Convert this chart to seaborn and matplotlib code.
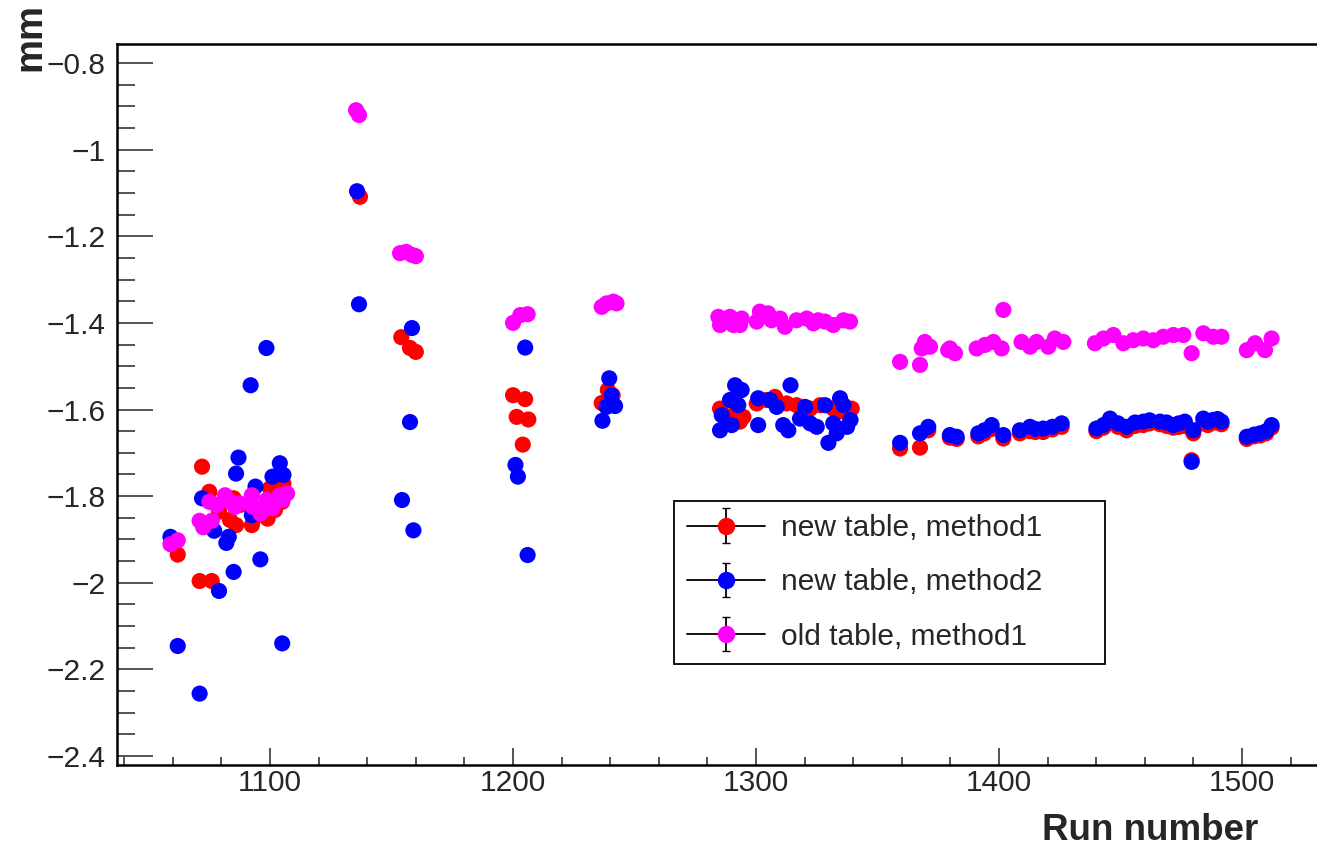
import numpy as np
import pandas as pd
import matplotlib
matplotlib.use("Agg")
import matplotlib.pyplot as plt
import seaborn as sns
from matplotlib.lines import Line2D
from matplotlib.collections import LineCollection
from matplotlib.container import ErrorbarContainer
from matplotlib.legend_handler import HandlerErrorbar
from matplotlib.ticker import MultipleLocator, FixedLocator, FixedFormatter

# ---------------- data ----------------
series_names = ["new table, method1", "new table, method2", "old table, method1"]
series_colors = ["#ff0000", "#0000ff", "#ff00ff"]

red_runs = [1062, 1071, 1076, 1072, 1075, 1078, 1079, 1083.5, 1085, 1086, 1088, 1092.5, 1095,
            1099, 1100, 1102, 1105, 1105.5,
            1137, 1154, 1157.6, 1160,
            1200, 1205, 1201.5, 1206.3, 1204,
            1239, 1241, 1236.5,
            1285.2, 1287.9, 1292, 1293.4, 1294.8, 1300.3, 1304.4, 1307.8, 1312.6, 1316.7,
            1322.3, 1326.4, 1331.8, 1336, 1339.4,
            1359.3, 1367.5, 1370.9, 1379.8, 1382.6, 1391.5, 1394, 1397, 1401.8, 1408.6, 1412.8,
            1415, 1418.2, 1422, 1425.8, 1440.1, 1443, 1445.7, 1449, 1452.5, 1456, 1459.4, 1462,
            1466.3, 1469, 1471.7, 1474, 1476.5, 1479.3, 1480, 1484.1, 1486, 1488.2, 1490, 1491.6,
            1502, 1505, 1507.5, 1510, 1512.2]
red_vals = [-1.935, -1.996, -1.996, -1.732, -1.790, -1.820, -1.836, -1.855, -1.805, -1.867, -1.820, -1.867, -1.845,
            -1.852, -1.782, -1.832, -1.813, -1.771,
            -1.109, -1.433, -1.458, -1.467,
            -1.567, -1.576, -1.617, -1.623, -1.681,
            -1.555, -1.567, -1.585,
            -1.598, -1.617, -1.598, -1.628, -1.617, -1.586, -1.578, -1.571, -1.586, -1.590,
            -1.598, -1.590, -1.598, -1.605, -1.598,
            -1.690, -1.688, -1.648, -1.665, -1.668, -1.662, -1.655, -1.645, -1.667, -1.655, -1.650,
            -1.652, -1.652, -1.646, -1.640, -1.650, -1.642, -1.630, -1.640, -1.648, -1.638, -1.636, -1.632,
            -1.634, -1.638, -1.642, -1.640, -1.638, -1.717, -1.655, -1.632, -1.636, -1.630, -1.630, -1.634,
            -1.668, -1.662, -1.660, -1.655, -1.642]

blue_runs = [1059, 1062, 1071, 1072, 1077, 1079, 1082, 1083, 1085, 1086, 1087, 1092, 1092.5, 1094,
             1096, 1098.5, 1101, 1104, 1105, 1105.5,
             1135.8, 1136.6, 1154.3, 1157.6, 1158.4, 1159,
             1201, 1202, 1205, 1206,
             1239.6, 1240.5, 1242, 1238.5, 1236.8,
             1291.4, 1294.1, 1314.2, 1289.3, 1292.7, 1300.9, 1305.8, 1308.5, 1285.9, 1290, 1285.2,
             1300.9, 1311.2, 1313.3, 1318.1, 1320.2, 1322.3, 1325, 1328.4, 1329.8, 1334.6, 1336,
             1338.9, 1337.5, 1333.2, 1331.8,
             1359.3, 1367.5, 1370.9, 1379.8, 1382.6, 1391.5, 1394, 1397, 1401.8, 1408.6, 1412.8,
             1415, 1418.2, 1422, 1425.8, 1440.1, 1443, 1445.7, 1449, 1452.5, 1456, 1459.4, 1462,
             1466.3, 1469, 1471.7, 1474, 1476.5, 1479.3, 1480, 1484.1, 1486, 1488.2, 1490, 1491.6,
             1502, 1505, 1507.5, 1510, 1512.2]
blue_vals = [-1.894, -2.146, -2.256, -1.805, -1.880, -2.019, -1.908, -1.894, -1.975, -1.748, -1.711, -1.544, -1.844, -1.778,
             -1.946, -1.458, -1.755, -1.724, -2.140, -1.751,
             -1.096, -1.357, -1.809, -1.629, -1.412, -1.879,
             -1.728, -1.755, -1.457, -1.936,
             -1.528, -1.567, -1.592, -1.594, -1.626,
             -1.544, -1.555, -1.544, -1.578, -1.590, -1.574, -1.578, -1.594, -1.613, -1.636, -1.648,
             -1.636, -1.636, -1.648, -1.621, -1.594, -1.632, -1.640, -1.590, -1.677, -1.574, -1.590,
             -1.624, -1.640, -1.655, -1.632,
             -1.677, -1.655, -1.640, -1.659, -1.663, -1.655, -1.648, -1.636, -1.659, -1.648, -1.640,
             -1.645, -1.644, -1.640, -1.632, -1.644, -1.636, -1.621, -1.632, -1.640, -1.630, -1.628, -1.625,
             -1.628, -1.630, -1.636, -1.632, -1.628, -1.721, -1.648, -1.621, -1.628, -1.624, -1.622, -1.628,
             -1.663, -1.658, -1.655, -1.650, -1.636]

mag_runs = [1059, 1062, 1071, 1072.5, 1076, 1075, 1078, 1081.5, 1083.5, 1085.5, 1087.5, 1092.5, 1093,
            1096, 1098.5, 1101, 1104, 1105, 1107,
            1135.4, 1136.6, 1153.5, 1156, 1158.4, 1160,
            1200, 1203, 1206,
            1236.5, 1238.5, 1241.3, 1242.6,
            1284.5, 1285.2, 1289.3, 1290.7, 1294.1, 1293.4, 1300.3, 1301.6, 1305, 1306.4, 1309.9,
            1311.9, 1316.7, 1320.9, 1323.6, 1325.6, 1328.4, 1331.8, 1336, 1338.7,
            1359.3, 1367.5, 1369.5, 1371.6, 1368.2, 1379.1, 1381.9, 1379.8, 1390.8, 1394.2, 1397.7,
            1401.1, 1401.8, 1409.3, 1412.8, 1415.5, 1420.3, 1423, 1426.5, 1439.5, 1443, 1447.1,
            1451.2, 1455.3, 1459.4, 1463.5, 1467.6, 1471.8, 1475.9, 1479.3, 1484.1, 1488.2, 1491.6,
            1502, 1505.4, 1509.5, 1512.2]
mag_vals = [-1.911, -1.902, -1.857, -1.872, -1.857, -1.813, -1.821, -1.798, -1.813, -1.825, -1.817, -1.798, -1.825,
            -1.840, -1.809, -1.828, -1.798, -1.809, -1.794,
            -0.909, -0.920, -1.239, -1.236, -1.243, -1.246,
            -1.400, -1.382, -1.380,
            -1.363, -1.355, -1.351, -1.355,
            -1.386, -1.405, -1.386, -1.405, -1.390, -1.405, -1.397, -1.374, -1.378, -1.394, -1.390,
            -1.409, -1.394, -1.390, -1.401, -1.394, -1.397, -1.405, -1.394, -1.397,
            -1.490, -1.497, -1.444, -1.455, -1.459, -1.463, -1.470, -1.459, -1.459, -1.451, -1.444,
            -1.459, -1.370, -1.444, -1.455, -1.444, -1.455, -1.436, -1.444, -1.447, -1.436, -1.428,
            -1.447, -1.440, -1.436, -1.440, -1.432, -1.428, -1.428, -1.470, -1.424, -1.432, -1.432,
            -1.463, -1.447, -1.463, -1.436]

x_ticks = [1100, 1200, 1300, 1400, 1500]
x_tick_labels = ["1100", "1200", "1300", "1400", "1500"]
y_ticks = [-2.4, -2.2, -2.0, -1.8, -1.6, -1.4, -1.2, -1.0, -0.8]
y_tick_labels = ["\u22122.4", "\u22122.2", "\u22122", "\u22121.8", "\u22121.6", "\u22121.4",
                 "\u22121.2", "\u22121", "\u22120.8"]
x_label = "Run number"
y_label = "mm"

# ---------------- build frame ----------------
df = pd.concat([
    pd.DataFrame({"run": red_runs, "val": red_vals, "series": series_names[0]}),
    pd.DataFrame({"run": blue_runs, "val": blue_vals, "series": series_names[1]}),
    pd.DataFrame({"run": mag_runs, "val": mag_vals, "series": series_names[2]}),
], ignore_index=True)

sns.set_style("white")
plt.rcParams["font.family"] = ["Liberation Sans", "DejaVu Sans"]

W, H = 1317, 850
fig = plt.figure(figsize=(W / 100, H / 100), dpi=100)
ax = fig.add_axes([117 / W, 85 / H, 1200 / W, 721 / H])

sns.scatterplot(data=df, x="run", y="val", hue="series",
                palette=dict(zip(series_names, series_colors)),
                s=135, edgecolor="none", linewidth=0, legend=False, ax=ax, zorder=3)

ax.set_xlim(1037.0, 1530.9)
ax.set_ylim(-2.4208, -0.7561)

ax.xaxis.set_major_locator(FixedLocator(x_ticks))
ax.xaxis.set_major_formatter(FixedFormatter(x_tick_labels))
ax.xaxis.set_minor_locator(MultipleLocator(20))
ax.yaxis.set_major_locator(FixedLocator(y_ticks))
ax.yaxis.set_major_formatter(FixedFormatter(y_tick_labels))
ax.yaxis.set_minor_locator(MultipleLocator(0.05))

ax.tick_params(axis="x", which="major", direction="in", length=12.5, width=1.1,
               labelsize=21.5, pad=3, bottom=True, top=False)
ax.tick_params(axis="x", which="minor", direction="in", length=6, width=1.1,
               bottom=True, top=False)
ax.tick_params(axis="y", which="major", direction="in", length=26, width=1.1,
               labelsize=21.5, pad=8, left=True, right=False)
ax.tick_params(axis="y", which="minor", direction="in", length=13, width=1.1,
               left=True, right=False)

for side in ["left", "bottom", "top"]:
    ax.spines[side].set_visible(True)
    ax.spines[side].set_linewidth(1.8)
    ax.spines[side].set_color("black")
ax.spines["right"].set_visible(False)
ax.set_xlabel("")
ax.set_ylabel("")
ax.grid(False)

fig.text(1258 / W, 1 - 830 / H, x_label, ha="right", va="center",
         fontsize=26.5, fontweight="bold")
fig.text(30 / W, 1 - 3 / H, y_label, ha="center", va="top", rotation=90,
         fontsize=27.5, fontweight="bold")

# ---------------- legend ----------------
handles = []
for c in series_colors:
    pl = Line2D([], [], color="black", linewidth=1.3, linestyle="-", marker="o",
                markerfacecolor=c, markeredgecolor=c, markersize=11.5)
    cap = Line2D([], [], color="black", linewidth=1.3)
    bars = LineCollection([], colors="black", linewidths=1.3)
    handles.append(ErrorbarContainer((pl, (cap, cap), (bars,)), has_xerr=False, has_yerr=True))

leg = ax.legend(handles, series_names, loc="lower left",
                bbox_to_anchor=(0.464, 0.140, 0.359, 0.230), mode="expand",
                handler_map={ErrorbarContainer: HandlerErrorbar(xerr_size=0.58, yerr_size=0.58)},
                fontsize=21.5, frameon=True, fancybox=False, shadow=False, framealpha=1,
                edgecolor="black", handlelength=2.6, handletextpad=0.55, labelspacing=0.88,
                borderpad=0.45, borderaxespad=0)
leg.get_frame().set_linewidth(1.3)

fig.savefig("out.png", dpi=100)
